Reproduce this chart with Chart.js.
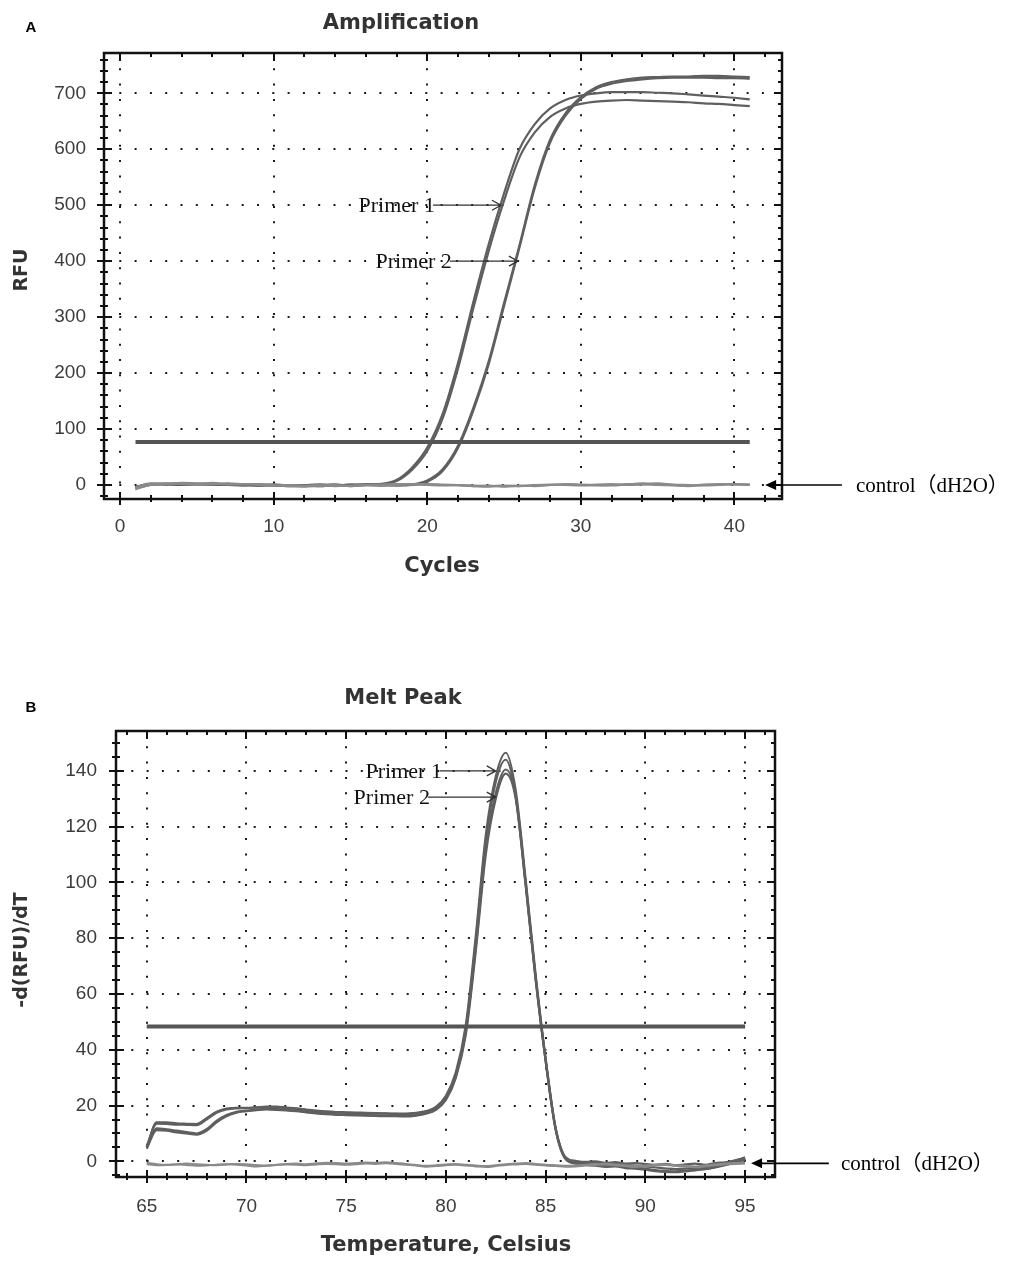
<!DOCTYPE html>
<html>
<head>
<meta charset="utf-8">
<title>Amplification / Melt Peak</title>
<script src="https://cdn.jsdelivr.net/npm/chart.js@4.4.1/dist/chart.umd.min.js"></script>
<style>
  html, body { margin: 0; padding: 0; background: #fff; }
  #wrap { position: relative; width: 1021px; height: 1265px; }
  canvas { position: absolute; left: 0; }
  #ampChart { top: 0; }
  #meltChart { top: 620px; }
</style>
</head>
<body>
<div id="wrap">
  <canvas id="ampChart" width="1021" height="610"></canvas>
  <canvas id="meltChart" width="1021" height="645"></canvas>
</div>
<script>
// ---- A: amplification (RFU per cycle) ----
const cycles = [1, 2, 3, 4, 5, 6, 7, 8, 9, 10,
  11, 12, 13, 14, 15, 16, 17, 18, 19, 20,
  21, 22, 23, 24, 25, 26, 27, 28, 29, 30,
  31, 32, 33, 34, 35, 36, 37, 38, 39, 40,
  41];
const cycleTicks = [0, 10, 20, 30, 40];
const rfuTicks = [0, 100, 200, 300, 400, 500, 600, 700];

const primer1a = [-3, 2, 1, 0, 2, 1, 0, -1, 1, 0,
  -1, 0, 1, -1, 0, 1, 2, 9, 31, 67,
  127, 218, 327, 430, 521, 600, 645, 673, 688, 696,
  700, 702, 702, 702, 701, 700, 698, 696, 694, 692,
  689];
const primer1b = [-5, 1, 2, 1, 0, 2, 1, 0, -1, 1,
  -1, -2, 0, 1, -1, 0, 1, 7, 27, 61,
  119, 208, 316, 418, 508, 585, 630, 658, 673, 681,
  685, 687, 688, 687, 686, 685, 684, 682, 681, 679,
  677];
const primer2a = [-4, 2, 1, 3, 1, 0, 2, 0, -1, 0,
  -2, -1, 0, -1, 1, 0, -1, 0, 1, 8,
  28, 70, 138, 221, 325, 428, 536, 617, 664, 693,
  711, 720, 725, 728, 729, 730, 730, 731, 731, 730,
  729];
const primer2b = [-6, 0, 2, 2, 1, 1, 0, 1, 0, -1,
  -1, 0, -2, 0, 0, 1, 0, -1, 0, 6,
  25, 66, 133, 216, 320, 424, 531, 612, 660, 690,
  708, 717, 722, 725, 727, 728, 728, 728, 727, 727,
  726];
const controlA1 = [-8, 1, 3, 2, 0, 1, 3, 2, 1, -1,
  0, -2, -1, 0, -2, -1, 0, 1, 2, 1,
  0, -1, -2, -1, -3, -2, -1, 0, 2, 1,
  0, -1, 1, 3, 2, 0, -1, 1, 2, 1,
  0];
const controlA2 = [-4, 3, 2, 4, 3, 2, 1, 2, 0, -1,
  -2, -3, -2, -1, -2, 0, 1, 2, 1, 0,
  -1, 0, -2, -3, -2, -1, -2, 0, 1, 0,
  -1, 0, 2, 1, 0, -1, -2, 0, 1, 2,
  1];
const controlA3 = [-6, 0, 1, 3, 2, 4, 2, 1, 2, 0,
  -1, -1, 0, -2, -1, 0, -1, 0, 1, 2,
  1, 0, -1, -2, -1, -2, 0, 1, 0, -1,
  1, 2, 0, 1, 3, 1, 0, -1, 0, 1,
  1];
const thresholdA = 77;

// ---- B: melt peak (-d(RFU)/dT per temperature) ----
const temps = [65, 65.5, 66, 66.5, 67, 67.5, 68, 68.5, 69, 69.5,
  70, 70.5, 71, 71.5, 72, 72.5, 73, 73.5, 74, 74.5,
  75, 75.5, 76, 76.5, 77, 77.5, 78, 78.5, 79, 79.5,
  80, 80.5, 81, 81.5, 82, 82.5, 83, 83.5, 84, 84.5,
  85, 85.5, 86, 86.5, 87, 87.5, 88, 88.5, 89, 89.5,
  90, 90.5, 91, 91.5, 92, 92.5, 93, 93.5, 94, 94.5,
  95];
const tempTicks = [65, 70, 75, 80, 85, 90, 95];
const derivTicks = [0, 20, 40, 60, 80, 100, 120, 140];

const melt1a = [5, 14, 14, 13.6, 13.5, 13.4, 15.5, 17.8, 18.9, 19.2,
  19.2, 19.4, 19.6, 19.6, 19.3, 19, 18.6, 18.2, 17.9, 17.7,
  17.6, 17.5, 17.4, 17.3, 17.2, 17.1, 17.1, 17.4, 18, 19.5,
  23.5, 32, 49, 81, 117, 138, 146.5, 133, 101, 67,
  37, 12, 1.5, 0.2, -0.2, 0, -0.5, -0.3, -0.8, -0.6,
  -1, -1.2, -0.9, -1.4, -1.1, -0.8, -1.2, -0.6, -0.3, 0.4,
  1.2];
const melt1b = [5.5, 13.5, 13.4, 13.2, 13.1, 13, 15, 17.4, 18.6, 19,
  19.1, 19.3, 19.5, 19.4, 19.1, 18.8, 18.4, 18, 17.7, 17.5,
  17.4, 17.3, 17.3, 17.2, 17.1, 17, 16.9, 17.2, 17.8, 19.2,
  23, 31, 47.5, 79, 115, 136, 144, 131, 99, 65.5,
  36, 11.5, 1, -0.3, -0.6, -0.4, -1, -0.8, -1.3, -1.5,
  -1.8, -2.2, -2.5, -2.8, -2.6, -2.4, -2, -1.5, -0.8, 0.2,
  1.5];
const melt2a = [5, 11.8, 11.5, 11, 10.5, 10, 11.5, 14.5, 16.6, 17.8,
  18.2, 18.6, 18.8, 18.7, 18.5, 18.2, 17.8, 17.4, 17.1, 16.9,
  16.8, 16.7, 16.6, 16.5, 16.4, 16.3, 16.3, 16.6, 17.3, 18.8,
  22.5, 30.5, 46.5, 77, 112, 132, 140.5, 131, 100, 66,
  36.5, 12, 1.2, -0.5, -1, -1.2, -1.6, -1.4, -2, -2.2,
  -2.6, -3.1, -3.4, -3.6, -3.3, -3, -2.7, -2.1, -1.2, -0.2,
  1];
const melt2b = [4.5, 11.2, 11, 10.4, 10, 9.6, 11, 14, 16.2, 17.5,
  18, 18.4, 18.6, 18.5, 18.3, 18, 17.6, 17.2, 16.9, 16.7,
  16.6, 16.5, 16.4, 16.3, 16.2, 16.2, 16.1, 16.4, 17.1, 18.5,
  22, 30, 45.5, 75.5, 110, 130, 139, 130, 99, 65,
  36, 11.5, 0.8, -0.8, -1.3, -1.5, -2, -1.8, -2.4, -2.6,
  -3, -3.5, -3.8, -3.9, -3.6, -3.2, -2.8, -2.2, -1.4, -0.5,
  0.6];
const controlB1 = [-0.5, -1, -1.2, -1, -0.8, -1, -1.2, -1.4, -1.1, -0.9,
  -1, -1.3, -1.5, -1.2, -0.9, -0.8, -1, -0.7, -0.5, -0.6,
  -0.8, -0.6, -0.4, -0.5, -0.3, -0.6, -0.9, -1.3, -1.6, -1.4,
  -1.1, -0.9, -1.2, -1.5, -1.7, -1.4, -1, -0.8, -0.6, -0.9,
  -1.2, -1.4, -1.6, -1.5, -1.2, -1, -0.8, -1.1, -1.4, -1.7,
  -1.5, -1.2, -1, -1.3, -1.6, -1.8, -1.5, -1.1, -0.8, -0.6,
  -0.5];
const controlB2 = [-1, -1.4, -1.3, -1.1, -1.3, -1.6, -1.5, -1.2, -1, -1.2,
  -1.5, -1.8, -1.6, -1.3, -1.1, -1.2, -1.4, -1.1, -0.9, -1,
  -1.2, -1, -0.8, -0.9, -0.7, -0.9, -1.2, -1.5, -1.9, -1.7,
  -1.4, -1.2, -1.5, -1.8, -2, -1.7, -1.3, -1.1, -0.9, -1.2,
  -1.5, -1.7, -1.9, -1.8, -1.5, -1.3, -1.1, -1.4, -1.7, -2,
  -1.8, -1.5, -1.3, -1.6, -1.9, -2.1, -1.8, -1.4, -1.1, -0.9,
  -0.8];
const thresholdB = 48.4;

const SAMPLE = "#5f5f5f";
const CONTROL = "#8a8a8a";
const THRESH = "#555555";
const TITLE_FONT = '"DejaVu Sans", sans-serif';
const TICK_FONT = { family: '"Liberation Sans", Arial, sans-serif', size: 19 };
const SERIF = '"Liberation Serif", "Times New Roman", "Noto Sans CJK SC", serif';

function series(xs, ys) {
  return xs.map((x, i) => ({ x: x, y: ys[i] }));
}

function line(data, color, width) {
  return {
    data: data,
    borderColor: color,
    borderWidth: width,
    pointRadius: 0,
    fill: false,
    cubicInterpolationMode: "monotone",
  };
}

// box, minor/major ticks on all sides, titles and the arrow notes
function makeFrame(cfg) {
  return {
    id: "frame",
    afterDraw(chart) {
      const ctx = chart.ctx;
      const a = chart.chartArea;
      const xs = chart.scales.x;
      const ys = chart.scales.y;
      const isMajor = (v, step) => Math.abs(v / step - Math.round(v / step)) < 1e-6;

      ctx.save();
      ctx.strokeStyle = "#111";
      ctx.lineWidth = 2;
      ctx.beginPath();
      for (let k = Math.ceil(xs.min / cfg.xMinor); k <= Math.floor(xs.max / cfg.xMinor); k++) {
        const v = k * cfg.xMinor;
        const big = isMajor(v, cfg.xMajor);
        const px = Math.round(xs.getPixelForValue(v));
        ctx.moveTo(px, a.bottom + (big ? 6 : 3));
        ctx.lineTo(px, a.bottom - (big ? 7 : 4));
        ctx.moveTo(px, a.top);
        ctx.lineTo(px, a.top + (big ? 8 : 4));
      }
      for (let k = Math.ceil(ys.min / cfg.yMinor); k <= Math.floor(ys.max / cfg.yMinor); k++) {
        const v = k * cfg.yMinor;
        const big = isMajor(v, cfg.yMajor);
        const py = Math.round(ys.getPixelForValue(v));
        ctx.moveTo(a.left - (big ? 7 : 4), py);
        ctx.lineTo(a.left + (big ? 8 : 4), py);
        ctx.moveTo(a.right, py);
        ctx.lineTo(a.right - (big ? 8 : 4), py);
      }
      ctx.stroke();
      ctx.lineWidth = 2.5;
      ctx.strokeRect(a.left, a.top, a.right - a.left, a.bottom - a.top);

      // titles
      ctx.textAlign = "center";
      ctx.textBaseline = "middle";
      ctx.fillStyle = "#333";
      ctx.font = "bold 21px " + TITLE_FONT;
      ctx.fillText(cfg.title, cfg.titleX, cfg.titleY);
      ctx.fillText(cfg.xTitle, cfg.xTitleX, cfg.xTitleY);
      ctx.save();
      ctx.translate(cfg.yTitleX, cfg.yTitleY);
      ctx.rotate(-Math.PI / 2);
      ctx.font = "bold 19px " + TITLE_FONT;
      ctx.fillText(cfg.yTitle, 0, 0);
      ctx.restore();
      ctx.fillStyle = "#000";
      ctx.font = 'bold 15px "Liberation Sans", Arial, sans-serif';
      ctx.fillText(cfg.panel, cfg.panelX, cfg.panelY);

      // primer notes: text, then a thin arrow with an open head
      ctx.font = "22px " + SERIF;
      ctx.textAlign = "right";
      cfg.notes.forEach((n) => {
        const y = ys.getPixelForValue(n.y);
        const x0 = xs.getPixelForValue(n.from);
        const x1 = xs.getPixelForValue(n.to);
        ctx.fillStyle = "#111";
        ctx.fillText(n.text, x0, y + 1);
        ctx.strokeStyle = "#333";
        ctx.lineWidth = 1.3;
        ctx.beginPath();
        ctx.moveTo(x0 - 2, y);
        ctx.lineTo(x1, y);
        ctx.moveTo(x1 - 9, y - 5);
        ctx.lineTo(x1, y);
        ctx.lineTo(x1 - 9, y + 5);
        ctx.stroke();
      });

      // control note: filled arrow pointing back at the flat trace
      const c = cfg.control;
      const cy = ys.getPixelForValue(c.y);
      const tip = xs.getPixelForValue(c.to);
      const tail = xs.getPixelForValue(c.from);
      ctx.strokeStyle = "#000";
      ctx.fillStyle = "#000";
      ctx.lineWidth = 1.6;
      ctx.beginPath();
      ctx.moveTo(tail, cy);
      ctx.lineTo(tip + 8, cy);
      ctx.stroke();
      ctx.beginPath();
      ctx.moveTo(tip, cy);
      ctx.lineTo(tip + 11, cy - 5);
      ctx.lineTo(tip + 11, cy + 5);
      ctx.closePath();
      ctx.fill();
      ctx.textAlign = "left";
      ctx.font = "21px " + SERIF;
      ctx.fillText(c.text, c.textX, cy + 1);
      ctx.restore();
    },
  };
}

function axis(min, max, tickValues, pad, size, isX) {
  return {
    type: "linear",
    min: min,
    max: max,
    afterFit: (s) => {
      if (isX) s.height = size;
      else s.width = size;
    },
    afterBuildTicks: (s) => {
      s.ticks = tickValues.map((v) => ({ value: v }));
    },
    border: { display: false, dash: [2, 13.3] },
    grid: { color: "#1a1a1a", lineWidth: 2, drawTicks: false },
    ticks: {
      padding: pad,
      color: "#3c3c3c",
      font: TICK_FONT,
      maxRotation: 0,
      autoSkip: false,
    },
  };
}

const baseOptions = (padding, xAxis, yAxis) => ({
  responsive: false,
  animation: false,
  layout: { padding: padding },
  plugins: { legend: { display: false }, tooltip: { enabled: false } },
  scales: { x: xAxis, y: yAxis },
});

document.addEventListener("DOMContentLoaded", function () {
  const ampCtx = document.getElementById("ampChart").getContext("2d");
  new Chart(ampCtx, {
    type: "line",
    data: {
      datasets: [
        line(series(cycles, controlA1), CONTROL, 2),
        line(series(cycles, controlA2), CONTROL, 2),
        line(series(cycles, controlA3), CONTROL, 2),
        line([{ x: cycles[0], y: thresholdA }, { x: cycles[cycles.length - 1], y: thresholdA }], THRESH, 4),
        line(series(cycles, primer1a), SAMPLE, 2.2),
        line(series(cycles, primer1b), SAMPLE, 2.2),
        line(series(cycles, primer2a), SAMPLE, 2.2),
        line(series(cycles, primer2b), SAMPLE, 2.2),
      ],
    },
    options: baseOptions(
      { top: 53, right: 239, bottom: 0, left: 0 },
      axis(-1.05, 43.1, cycleTicks, 16, 111, true),
      axis(-25, 772, rfuTicks, 18, 104, false)
    ),
    plugins: [
      makeFrame({
        xMinor: 2, xMajor: 10, yMinor: 20, yMajor: 100,
        title: "Amplification", titleX: 401, titleY: 24,
        xTitle: "Cycles", xTitleX: 442, xTitleY: 567,
        yTitle: "RFU", yTitleX: 22, yTitleY: 270,
        panel: "A", panelX: 31, panelY: 28,
        notes: [
          { text: "Primer 1", from: 20.5, to: 24.8, y: 500 },
          { text: "Primer 2", from: 21.6, to: 25.9, y: 400 },
        ],
        control: { text: "control（dH2O）", to: 42.0, from: 47.0, y: 0, textX: 856 },
      }),
    ],
  });

  const meltCtx = document.getElementById("meltChart").getContext("2d");
  new Chart(meltCtx, {
    type: "line",
    data: {
      datasets: [
        line(series(temps, controlB1), CONTROL, 2),
        line(series(temps, controlB2), CONTROL, 2),
        line([{ x: temps[0], y: thresholdB }, { x: temps[temps.length - 1], y: thresholdB }], THRESH, 4),
        line(series(temps, melt2b), SAMPLE, 2.2),
        line(series(temps, melt2a), SAMPLE, 2.2),
        line(series(temps, melt1b), SAMPLE, 2.2),
        line(series(temps, melt1a), SAMPLE, 2.2),
      ],
    },
    options: baseOptions(
      { top: 111, right: 246, bottom: 0, left: 0 },
      axis(63.46, 96.5, tempTicks, 18, 88, true),
      axis(-5.6, 154.3, derivTicks, 19, 116, false)
    ),
    plugins: [
      makeFrame({
        xMinor: 1, xMajor: 5, yMinor: 5, yMajor: 20,
        title: "Melt Peak", titleX: 403, titleY: 79,
        xTitle: "Temperature, Celsius", xTitleX: 446, xTitleY: 626,
        yTitle: "-d(RFU)/dT", yTitleX: 22, yTitleY: 330,
        panel: "B", panelX: 31, panelY: 88,
        notes: [
          { text: "Primer 1", from: 79.8, to: 82.5, y: 140 },
          { text: "Primer 2", from: 79.2, to: 82.5, y: 130.6 },
        ],
        control: { text: "control（dH2O）", to: 95.3, from: 99.2, y: -0.7, textX: 841 },
      }),
    ],
  });
});
</script>
</body>
</html>
